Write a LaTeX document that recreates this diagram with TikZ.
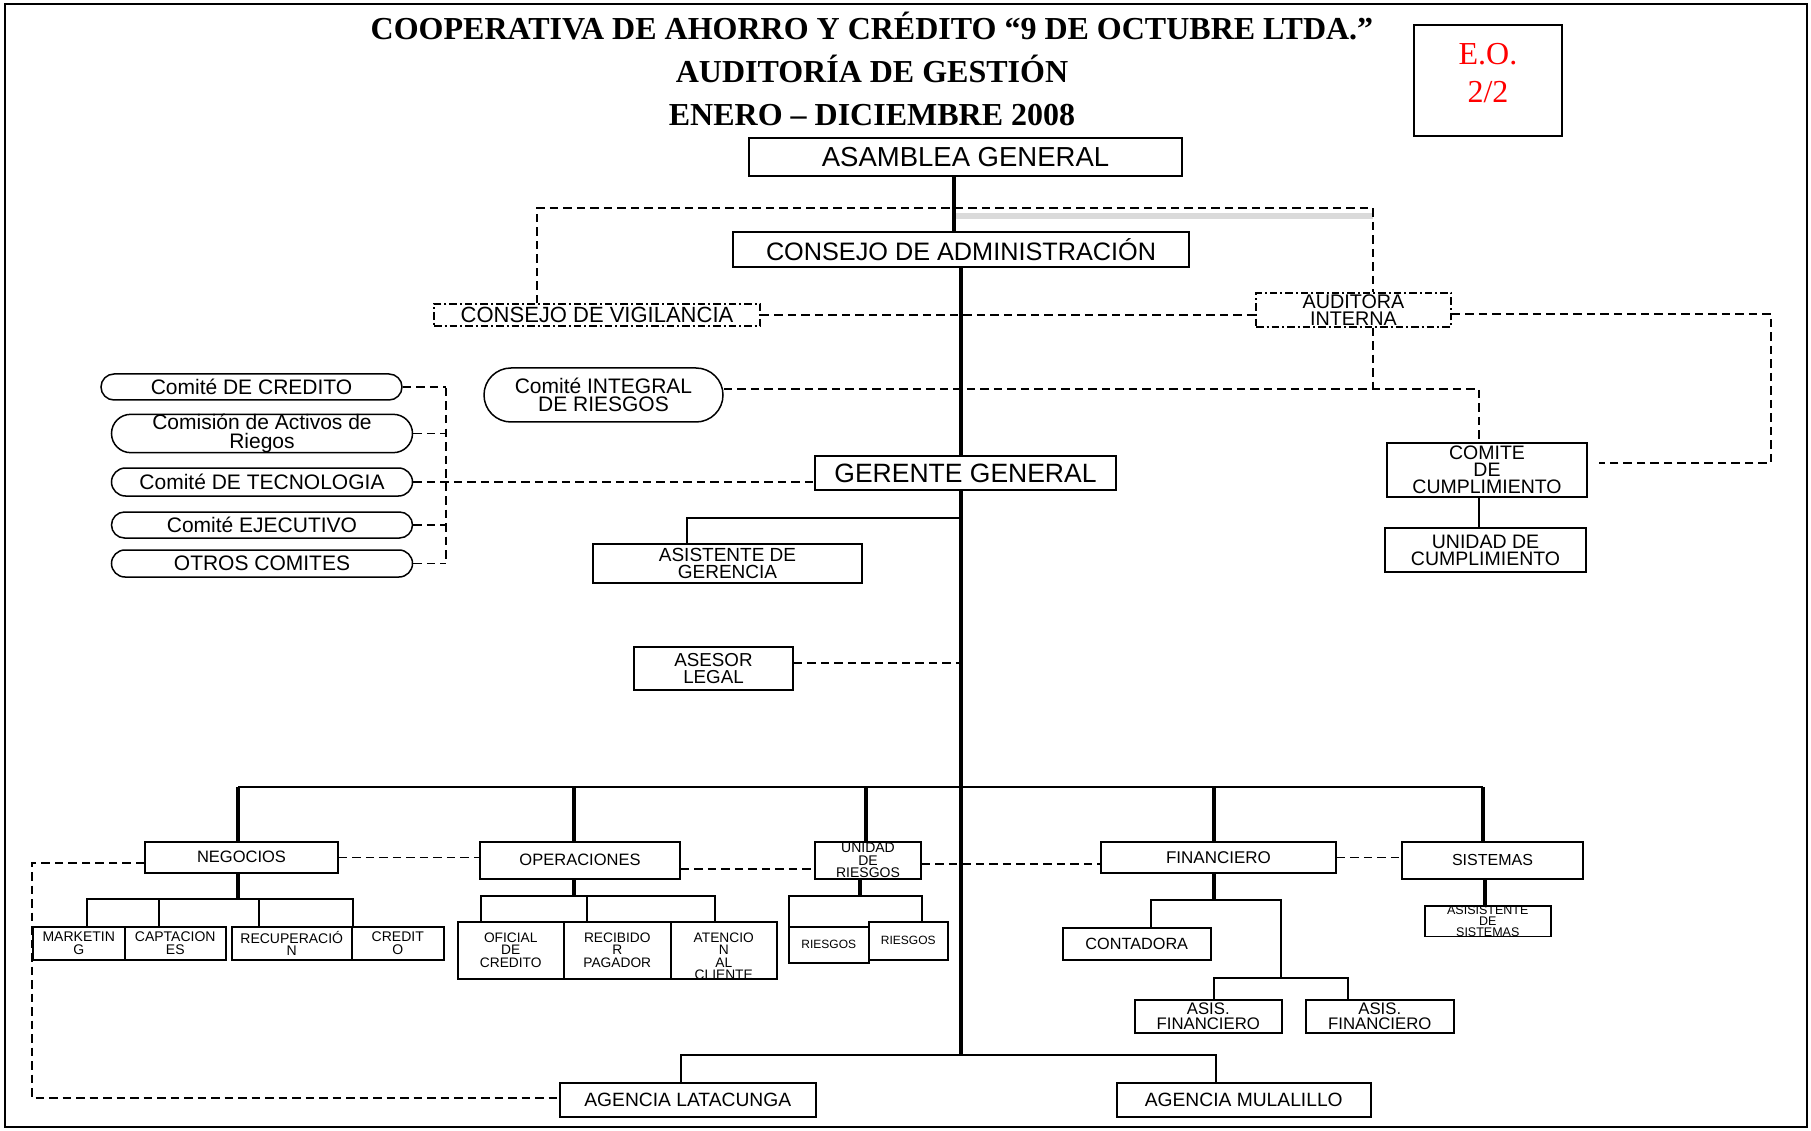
\documentclass[tikz,border=0pt]{standalone}
\usepackage{fontspec}
\usepackage{xcolor}
\usepackage{tikz}
\usetikzlibrary{shapes.misc}
\setmainfont{Liberation Sans}
\newfontfamily\timesfont{Liberation Serif}
\definecolor{eored}{RGB}{255, 0, 0}
\definecolor{shadowgray}{RGB}{218, 218, 218}
\newcommand\fsz[1]{\fontsize{#1}{\fpeval{0.88*#1}}\selectfont}

\begin{document}
\begin{tikzpicture}[x=0.4pt, y=-0.4pt,
    box/.style 2 args={draw, fill=white, line width=0.6pt, inner sep=0pt, align=center,
      minimum width=#1*0.4pt, minimum height=#2*0.4pt},
    pill/.style 2 args={box={#1}{#2}, rounded rectangle},
    dotbox/.style 2 args={box={#1}{#2}, dash pattern=on 3pt off 1.2pt on 0.8pt off 1.2pt},
    heavy/.style={line width=1.5pt},
    thinl/.style={line width=0.6pt},
    dashl/.style={line width=0.6pt, dash pattern=on 3.4pt off 2pt}]
  \useasboundingbox (0,0) rectangle (1811,1131);
  % page frame and the grey shadow under the top dashed line
  \draw[line width=0.9pt] (5,4) rectangle (1807,1127);
  \draw[draw=shadowgray, line width=2.4pt] (954,216) -- (1373,216);

  % title block
  \foreach \lab [count=\i] in {COOPERATIVA DE AHORRO Y CRÉDITO “9 DE OCTUBRE LTDA.”,
      AUDITORÍA DE GESTIÓN, ENERO – DICIEMBRE 2008}
    \node[font=\timesfont\bfseries\fsz{12.8}, anchor=base] (title\i) at (872,-3.5+43*\i) {\lab};
  \node[box={148}{111}] (eo) at (1488,80.5) {};
  \node[font=\timesfont\fsz{12.8}, text=eored, align=center] (eotext) at (1488,73) {E.O.\\[4pt]2/2};

  % top of the chart
  \node[box={433}{38}, font=\fsz{11}] (asamblea) at (965.5,157) {ASAMBLEA GENERAL};
  \node[box={456}{35}, font=\fsz{10.1}] (consejo) at (961,249.5) {CONSEJO DE ADMINISTRACIÓN};
  \node[dotbox={326}{22}, font=\fsz{8.8}] (vigilancia) at (597,315) {CONSEJO DE VIGILANCIA};
  \node[dotbox={195}{34}, font=\fsz{7.9}] (auditora) at (1353.5,310) {AUDITORA\\INTERNA};
  \node[pill={239}{54}, font=\fsz{8.4}] (integral) at (603.5,395) {Comité INTEGRAL\\DE RIESGOS};
  \node[box={301}{34}, font=\fsz{10.6}] (gerente) at (965.5,473) {GERENTE GENERAL};
  \node[box={200}{54}, font=\fsz{7.8}] (comite) at (1487,470) {COMITE\\DE\\CUMPLIMIENTO};
  \node[box={201}{44}, font=\fsz{7.8}] (unidadc) at (1485.5,550) {UNIDAD DE\\CUMPLIMIENTO};
  \node[box={269}{39}, font=\fsz{7.6}] (asistente) at (727.5,563.5) {ASISTENTE DE\\GERENCIA};
  \node[box={159}{43}, font=\fsz{7.5}] (asesor) at (713.5,668.5) {ASESOR\\LEGAL};

  % committees on the left
  \foreach \n/\x/\y/\h/\lab in {credito/251.5/387/26/{Comité DE CREDITO},
      comision/262/433.5/27/{Comisión de Activos de\\Riegos},
      tecnologia/262/482/28/{Comité DE TECNOLOGIA},
      ejecutivo/262/525/26/{Comité EJECUTIVO},
      otros/262/563.5/27/{OTROS COMITES}}
    \node[pill={301}{\h}, font=\fsz{8.4}] (\n) at (\x,\y) {\lab};

  % departments
  \foreach \n/\x/\w/\h/\s/\lab in {neg/241.5/193/31/6.6/NEGOCIOS,
      ope/580/200/37/6.6/OPERACIONES,
      unidadr/868/106/37/5.6/{UNIDAD\\DE\\RIESGOS},
      fin/1218.5/235/31/6.8/FINANCIERO,
      sis/1492.5/181/37/6.4/SISTEMAS}
    \node[box={\w}{\h}, anchor=north, font=\fsz{\s}] (\n) at (\x,841) {\lab};

  % boxes under the departments
  \foreach \n/\x/\y/\w/\h/\s/\lab in {mkt/32/926/92/33/5.6/{MARKETIN\\G},
      cap/124/926/101/33/5.6/{CAPTACION\\ES},
      rec/231/926/120/33/5.6/{RECUPERACIÓ\\N},
      cre/351/926/92/33/5.6/{CREDIT\\O},
      ofi/457/921/106/57/5.5/{OFICIAL\\DE\\CREDITO},
      rpa/563/921/107/57/5.5/{RECIBIDO\\R\\PAGADOR},
      ate/670/921/106/57/5.5/{},
      rie1/788/926/80/36/4.8/RIESGOS,
      rie2/868/921/79/38/4.8/RIESGOS,
      cont/1062/927/148/32/6.5/CONTADORA,
      af1/1134/999/147/33/6.7/{ASIS.\\FINANCIERO},
      af2/1305/999/148/33/6.7/{ASIS.\\FINANCIERO},
      asis/1424/905/126/27/5.0/{ASISISTENTE\\DE\\SISTEMAS},
      lat/559/1082/256/34/7.7/{AGENCIA LATACUNGA},
      mul/1116/1082/254/34/7.7/{AGENCIA MULALILLO}}
    \node[box={\w}{\h}, anchor=north west, font=\fsz{\s}] (\n) at (\x,\y) {\lab};
  \node[font=\fsz{5.5}, align=center, inner sep=0pt] (atetext) at ([yshift=-2.4pt]ate.center)
    {ATENCIO\\N\\AL\\CLIENTE};

  % junctions
  \coordinate (mb) at (961,1055);
  \coordinate (db) at (961,787);
  \coordinate (ga) at (961,518);
  \coordinate (nb) at (238,899);
  \coordinate (ob) at (574,896);
  \coordinate (ub) at (860,896);
  \coordinate (fb) at (1214,900);
  \coordinate (fs) at (1281,978);
  \coordinate (topl) at (537,208);
  \coordinate (topr) at (1373,208);
  \coordinate (rj) at (1373,389);
  \coordinate (ar) at (1771,463);
  \coordinate (ae) at (1599,463);
  \coordinate (cx) at (446,388);
  \coordinate (nl) at (32,1098);

  % main line
  \draw[heavy] ([xshift=-4.6pt]asamblea.south) -- ([xshift=-4.6pt]asamblea.south |- consejo.north);
  \draw[heavy] (consejo.south) -- (consejo.south |- gerente.north);
  \draw[heavy] (consejo.south |- gerente.south) -- (mb);
  \draw[thinl] ([xshift=-16.2pt]asistente.north) |- (ga);
  \draw[dashl] ([yshift=2.2pt]asesor.east) -- ([yshift=2.2pt]asesor.east -| mb);
  \draw[thinl] ([xshift=-3.2pt]comite.south) -- ([xshift=-3.2pt]comite.south |- unidadc.north);

  % department bus
  \foreach \d/\o in {neg/-1.4pt, ope/-2.4pt, unidadr/-0.8pt, fin/-1.8pt, sis/-3.8pt}
    \draw[heavy] ([xshift=\o]\d.north) -- ([xshift=\o]\d.north |- db);
  \draw[thinl] ([xshift=-1.4pt]neg.north |- db) -- ([xshift=-3.8pt]sis.north |- db);
  \draw[heavy] (nb |- neg.south) -- (nb);
  \draw[heavy] (ob |- ope.south) -- (ob);
  \draw[heavy] (ub |- unidadr.south) -- (ub);
  \draw[heavy] (fb |- fin.south) -- (fb);
  \draw[heavy] ([xshift=-1.2pt]asis.north) -- ([xshift=-1.2pt]asis.north |- sis.south);

  % branches
  \foreach \n/\o in {mkt/8, cap/-16.5, rec/-33, cre/-45}
    \draw[thinl] (\n.north) ++(\o,0) |- (nb);
  \foreach \n/\o in {ofi/-30, rpa/-30.5, ate/-9}
    \draw[thinl] (\n.north) ++(\o,0) |- (ob);
  \foreach \n/\o in {rie1/-40, rie2/13.5}
    \draw[thinl] (\n.north) ++(\o,0) |- (ub);
  \draw[thinl] (cont.north) ++(14,0) |- (fb);
  \draw[thinl] (fb) -| (fs);
  \foreach \n/\o in {af1/5.5, af2/-32}
    \draw[thinl] (\n.north) ++(\o,0) |- (fs);
  \foreach \n/\o in {lat/-7, mul/-28}
    \draw[thinl] (\n.north) ++(\o,0) |- (mb);

  % dashed links
  \draw[dashl] (vigilancia.north -| topl) -- (topl) -- (topr) -- (auditora.north -| topr);
  \draw[dashl] (auditora.south -| topr) -- (rj);
  \draw[dashl] ([yshift=2.4pt]integral.east) -- ([xshift=-3.2pt,yshift=2.4pt]integral.east -| comite.north)
    -- ([xshift=-3.2pt]comite.north);
  \draw[dashl] (vigilancia.east) -- (vigilancia.east -| auditora.west);
  \draw[dashl] ([yshift=-1.6pt]auditora.east) -| (ar) -- (ae);
  \foreach \c in {credito, comision, ejecutivo, otros}
    \draw[dashl] (\c.east) -- (\c.east -| cx);
  \draw[dashl] (cx) -- (cx |- otros.east);
  \draw[dashl] (tecnologia.east) -- (tecnologia.east -| gerente.west);
  \draw[dashl] ([yshift=-2.2pt]neg.west) -| (nl) -- (nl -| lat.west);
  \draw[dashl] (neg.east) -- (neg.east -| ope.west);
  \draw[dashl] ([yshift=-3.4pt]ope.east) -- ([yshift=-3.4pt]ope.east -| unidadr.west);
  \draw[dashl] ([yshift=-1.4pt]unidadr.east) -- ([yshift=-1.4pt]unidadr.east -| fin.west);
  \draw[dashl] (fin.east) -- (fin.east -| sis.west);
\end{tikzpicture}
\end{document}
